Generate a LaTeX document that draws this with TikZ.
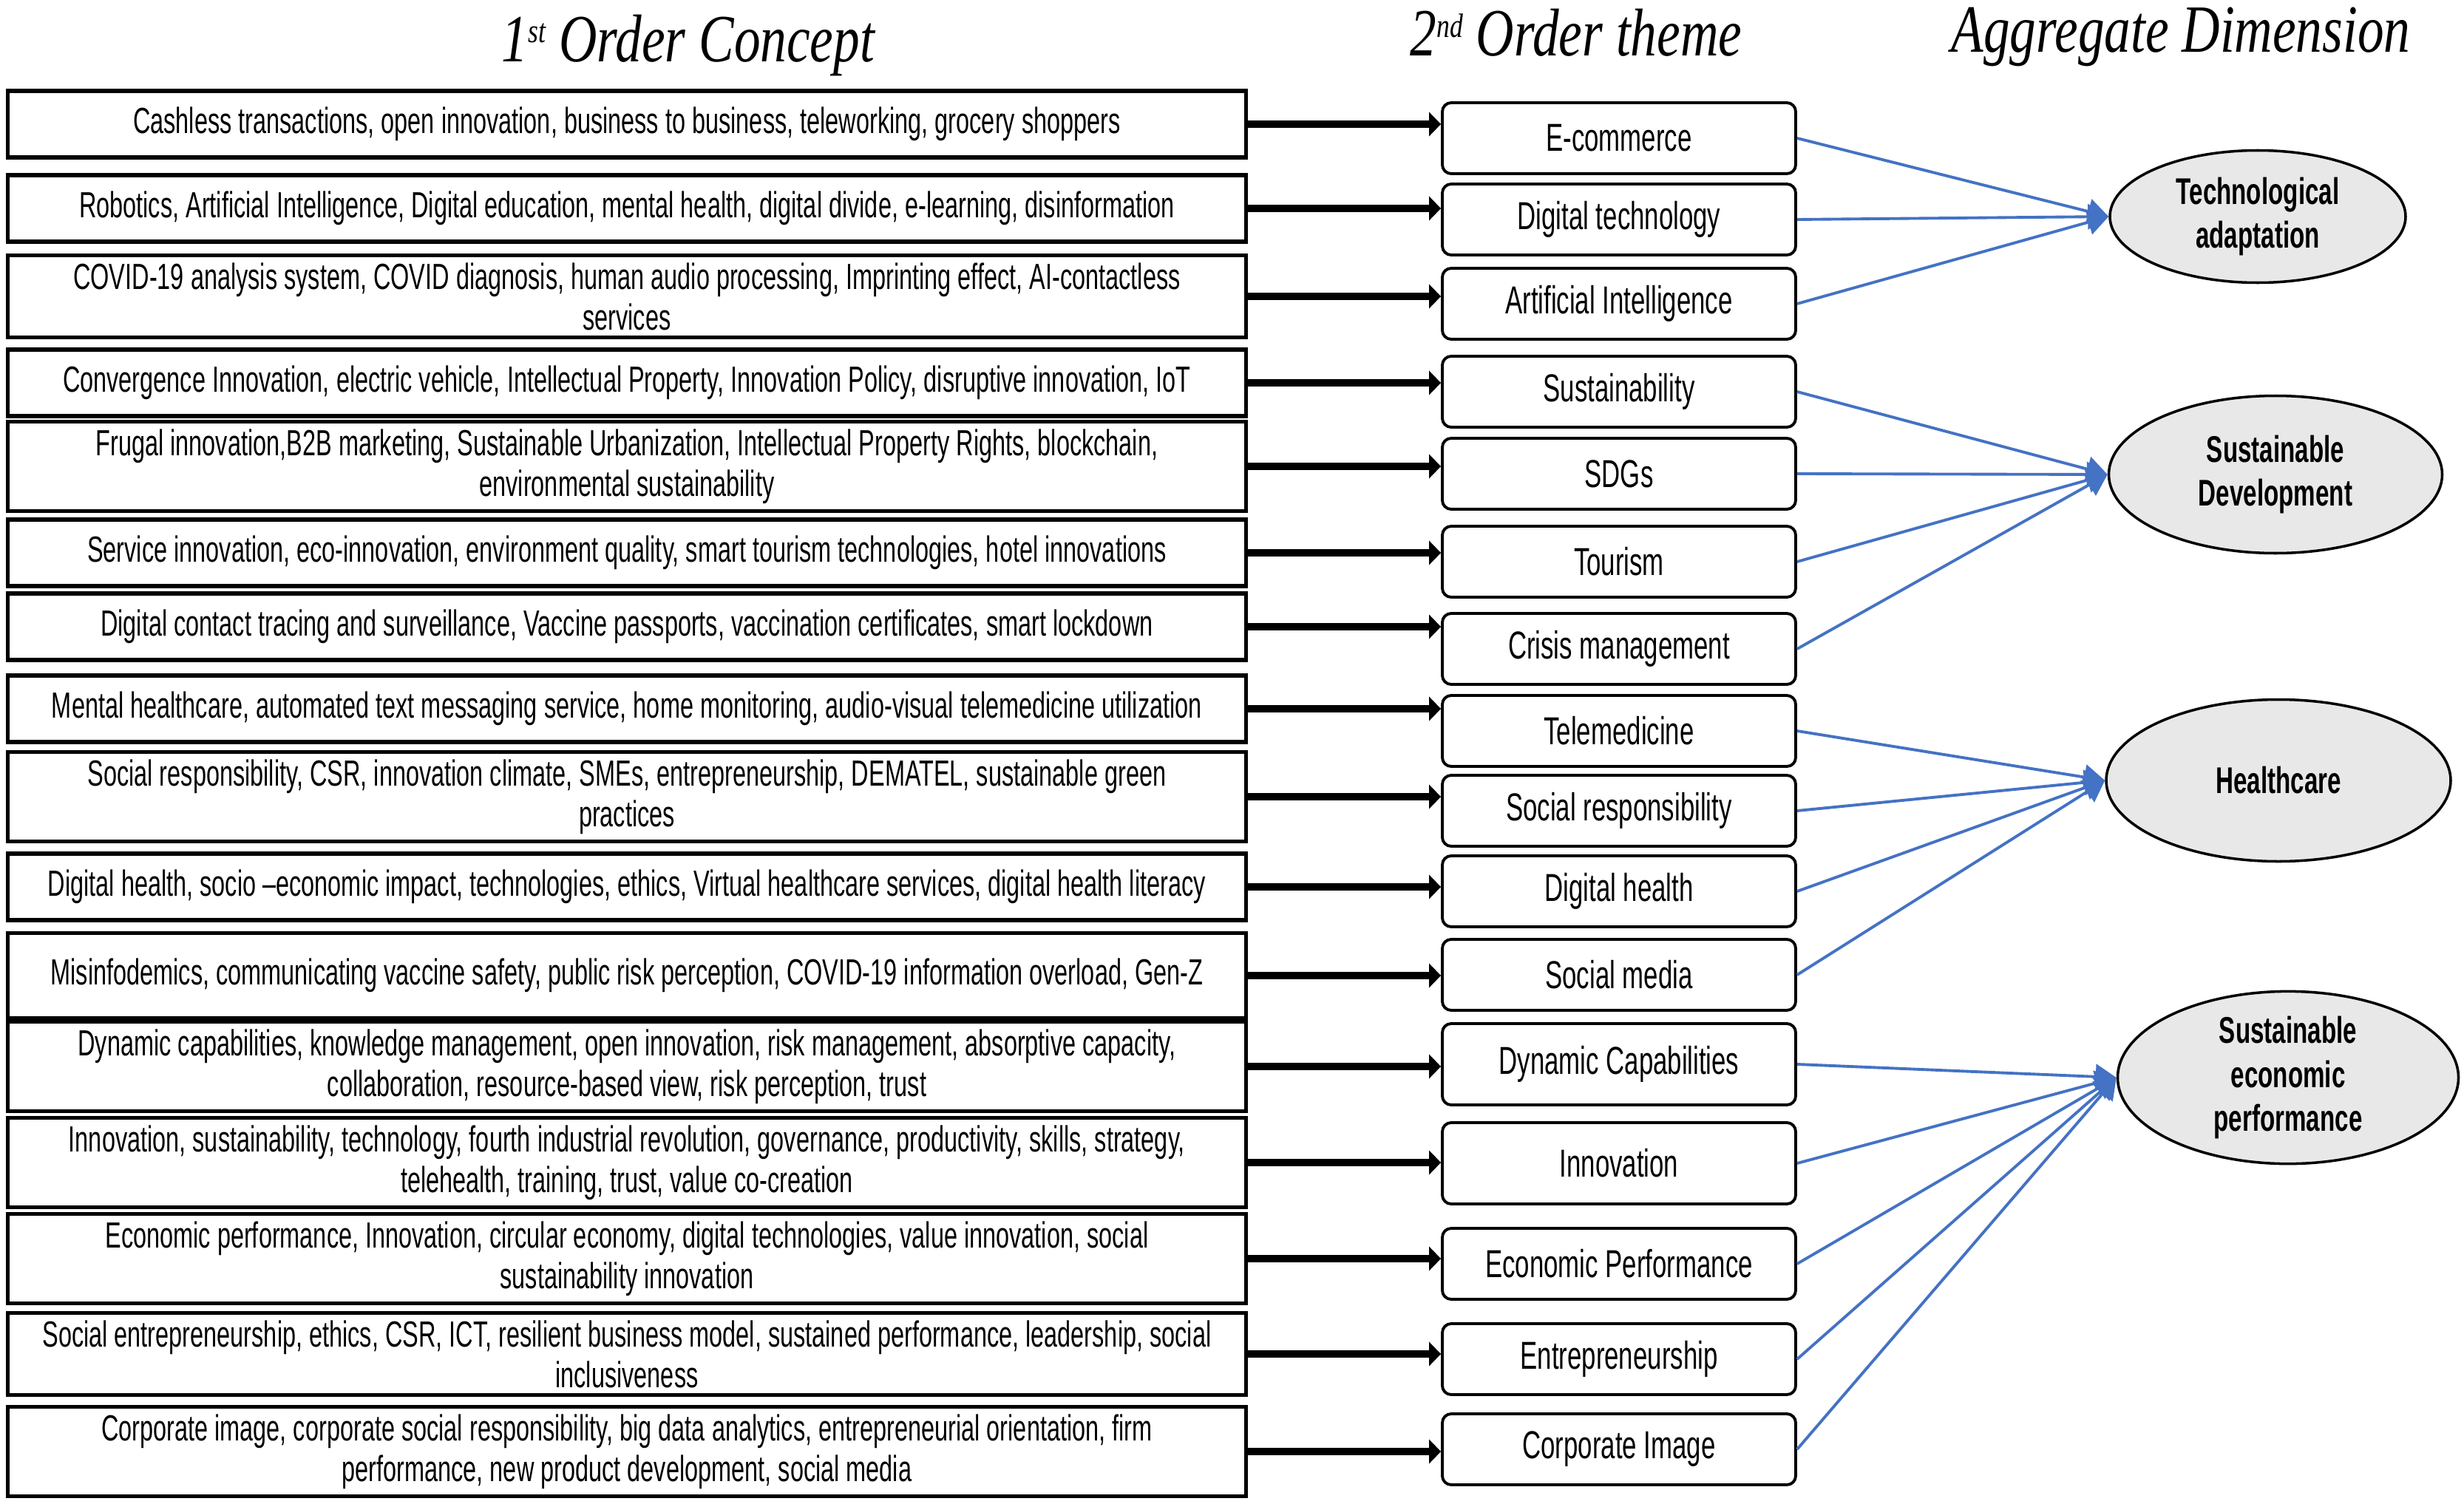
\documentclass[tikz,border=0pt]{standalone}
\usepackage{fontspec}
\setmainfont{Liberation Sans}[FakeStretch=0.66]
\newfontfamily\headfont{Liberation Serif}[FakeStretch=0.78]
\usetikzlibrary{positioning}
\usetikzlibrary{shapes.geometric}
\usetikzlibrary{arrows.meta}
\definecolor{linkblue}{RGB}{68,114,196}
\definecolor{dimfill}{RGB}{232,232,232}
\newcommand{\ordsup}[1]{\raisebox{0.28em}{\fontsize{13}{13}\selectfont #1}}
\tikzset{
	every node/.style = {font=\fontsize{14}{15.6}\selectfont},
	concept/.style = {draw, line width=1.5pt, minimum width=16.75cm, minimum height=0.9cm, align=center, inner sep=1mm},
	theme/.style = {draw, line width=1.1pt, rounded corners=1.2mm, minimum width=4.78cm, minimum height=0.96cm, font=\fontsize{15}{18}\selectfont},
	dimension/.style = {ellipse, draw, line width=1pt, fill=dimfill, align=center, inner sep=0pt, font=\bfseries\fontsize{14.3}{16.8}\selectfont},
	heading/.style = {anchor=base, inner sep=0pt, font=\headfont\itshape\fontsize{26}{30}\selectfont},
	feed/.style = {line width=2.6pt, -{Triangle[length=1.6mm,width=3.2mm]}},
	link/.style = {linkblue, line width=1.1pt, -{Triangle[length=2.8mm,width=3.4mm]}}
}

\begin{document}
\begin{tikzpicture}
		\useasboundingbox (0,0) rectangle (33.33,-20.35);
		% headings
		\node[heading] (h1) at (9.31,-0.83) {1\ordsup{st} Order Concept};
		\node[heading] (h2) at (21.32,-0.76) {2\ordsup{nd} Order theme};
		\node[heading] (h3) at (29.50,-0.70) {Aggregate Dimension};
		
		% 1st order concepts
		\node[concept] (c1) at (8.48,-1.68) {Cashless transactions, open innovation, business to business, teleworking, grocery shoppers};
		\node[concept] (c2) at (8.48,-2.82) {Robotics, Artificial Intelligence, Digital education, mental health, digital divide, e-learning, disinformation};
		\node[concept] (c3) at (8.48,-4.01) {COVID-19 analysis system, COVID diagnosis, human audio processing, Imprinting effect, AI-contactless\\services};
		\node[concept] (c4) at (8.48,-5.18) {Convergence Innovation, electric vehicle, Intellectual Property, Innovation Policy, disruptive innovation, IoT};
		\node[concept] (c5) at (8.48,-6.31) {Frugal innovation,B2B marketing, Sustainable Urbanization, Intellectual Property Rights, blockchain,\\environmental sustainability};
		\node[concept] (c6) at (8.48,-7.48) {Service innovation, eco-innovation, environment quality, smart tourism technologies, hotel innovations};
		\node[concept] (c7) at (8.48,-8.48) {Digital contact tracing and surveillance, Vaccine passports, vaccination certificates, smart lockdown};
		\node[concept] (c8) at (8.48,-9.59) {Mental healthcare, automated text messaging service, home monitoring, audio-visual telemedicine utilization};
		\node[concept] (c9) at (8.48,-10.78) {Social responsibility, CSR, innovation climate, SMEs, entrepreneurship, DEMATEL, sustainable green\\practices};
		\node[concept] (c10) at (8.48,-12.00) {Digital health, socio –economic impact, technologies, ethics, Virtual healthcare services, digital health literacy};
		\node[concept, minimum height=1.15cm] (c11) at (8.48,-13.20) {Misinfodemics, communicating vaccine safety, public risk perception, COVID-19 information overload, Gen-Z};
		\node[concept] (c12) at (8.48,-14.43) {Dynamic capabilities, knowledge management, open innovation, risk management, absorptive capacity,\\collaboration, resource-based view, risk perception, trust};
		\node[concept] (c13) at (8.48,-15.73) {Innovation, sustainability, technology, fourth industrial revolution, governance, productivity, skills, strategy,\\telehealth, training, trust, value co-creation};
		\node[concept] (c14) at (8.48,-17.03) {Economic performance, Innovation, circular economy, digital technologies, value innovation, social\\sustainability innovation};
		\node[concept] (c15) at (8.48,-18.32) {Social entrepreneurship, ethics, CSR, ICT, resilient business model, sustained performance, leadership, social\\inclusiveness};
		\node[concept] (c16) at (8.48,-19.64) {Corporate image, corporate social responsibility, big data analytics, entrepreneurial orientation, firm\\performance, new product development, social media};
		
		% 2nd order themes
		\node[theme] (t1) at (21.9,-1.87) {E-commerce};
		\node[theme] (t2) at (21.9,-2.97) {Digital technology};
		\node[theme] (t3) at (21.9,-4.11) {Artificial Intelligence};
		\node[theme] (t4) at (21.9,-5.30) {Sustainability};
		\node[theme] (t5) at (21.9,-6.41) {SDGs};
		\node[theme] (t6) at (21.9,-7.60) {Tourism};
		\node[theme] (t7) at (21.9,-8.78) {Crisis management};
		\node[theme] (t8) at (21.9,-9.89) {Telemedicine};
		\node[theme] (t9) at (21.9,-10.97) {Social responsibility};
		\node[theme] (t10) at (21.9,-12.06) {Digital health};
		\node[theme] (t11) at (21.9,-13.19) {Social media};
		\node[theme, minimum height=1.1cm] (t12) at (21.9,-14.40) {Dynamic Capabilities};
		\node[theme, minimum height=1.1cm] (t13) at (21.9,-15.74) {Innovation};
		\node[theme] (t14) at (21.9,-17.10) {Economic Performance};
		\node[theme] (t15) at (21.9,-18.39) {Entrepreneurship};
		\node[theme] (t16) at (21.9,-19.61) {Corporate Image};
		
		% aggregate dimensions
		\node[dimension, minimum width=4.0cm, minimum height=1.79cm] (d1) at (30.54,-2.93) {Technological\\adaptation};
		\node[dimension, minimum width=4.51cm, minimum height=2.13cm] (d2) at (30.78,-6.42) {Sustainable\\Development};
		\node[dimension, minimum width=4.66cm, minimum height=2.19cm] (d3) at (30.82,-10.56) {Healthcare};
		\node[dimension, minimum width=4.61cm, minimum height=2.23cm] (d4) at (30.95,-14.58) {Sustainable\\economic\\performance};
		
		% concept -> theme
		\foreach \i in {1,...,16}
			\draw[feed] (c\i.east) -- (c\i.east -| t\i.west);
		% theme -> dimension
		\foreach \i/\j in {1/1, 2/1, 3/1, 4/2, 5/2, 6/2, 7/2, 8/3, 9/3, 10/3, 11/3, 12/4, 13/4, 14/4, 15/4, 16/4}
			\draw[link] (t\i.east) -- (d\j.west);
	\end{tikzpicture}
\end{document}
